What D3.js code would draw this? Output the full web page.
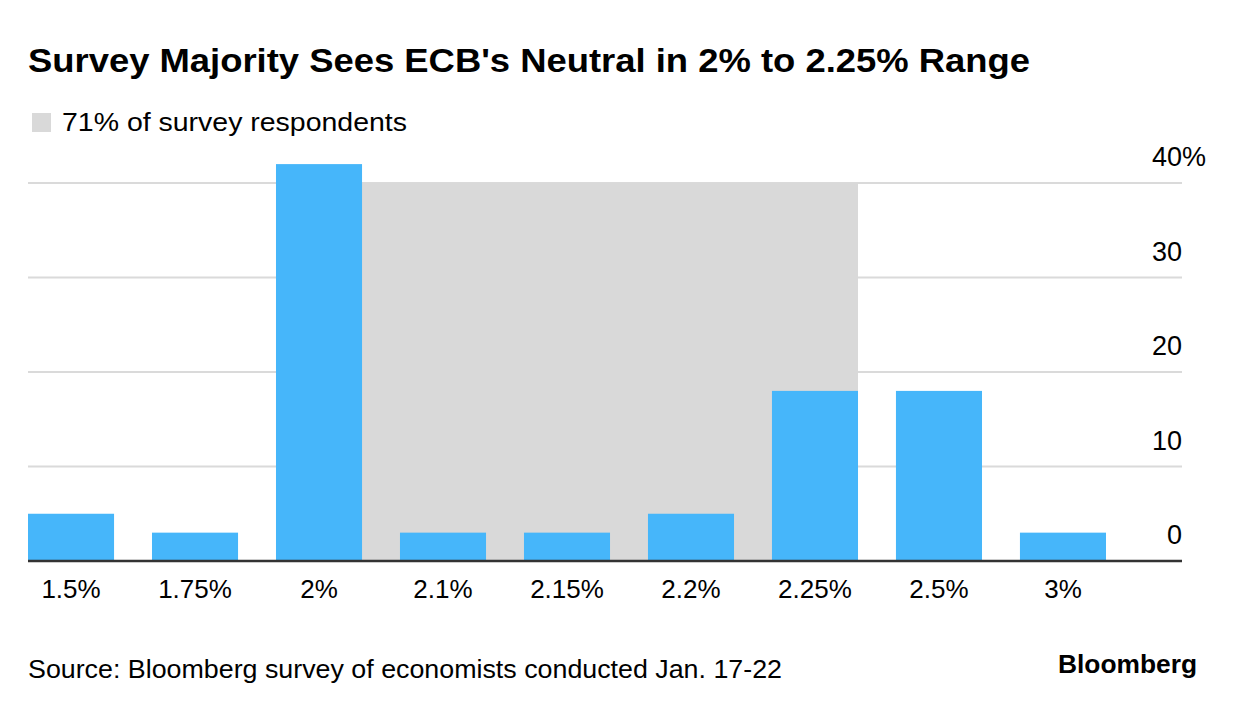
<!DOCTYPE html>
<html>
<head>
<meta charset="utf-8">
<script src="https://cdn.jsdelivr.net/npm/d3@7/dist/d3.min.js"></script>
<style>
  body { margin: 0; background: #fff; }
  text { font-family: "Liberation Sans", Arial, sans-serif; fill: #000; }
</style>
</head>
<body>
<svg id="chart" width="1236" height="726"></svg>
<script>
// neutral rate estimates and share of respondents (%)
var categories = ["1.5%", "1.75%", "2%", "2.1%", "2.15%", "2.2%", "2.25%", "2.5%", "3%"];
var shares = [5, 3, 42, 3, 3, 5, 18, 18, 3];
var yTicks = [0, 10, 20, 30, 40];
var shadeRange = ["2%", "2.25%"];
var shadeTop = 40;

var svg = d3.select("#chart");
var plotLeft = 28, plotRight = 1182, plotTop = 183, plotBottom = 561;

var x = d3.scaleBand()
    .domain(categories)
    .range([plotLeft, 1106])
    .paddingInner(0.306)
    .paddingOuter(0);

var y = d3.scaleLinear()
    .domain([0, 40])
    .range([plotBottom, plotTop]);

// the source font runs wider than Liberation, stretch the glyphs a bit
function stretch(sel, w) {
    sel.attr("textLength", w).attr("lengthAdjust", "spacingAndGlyphs");
}

// title
svg.append("text")
    .attr("x", 28).attr("y", 72)
    .attr("font-size", 33).attr("font-weight", "bold")
    .text("Survey Majority Sees ECB's Neutral in 2% to 2.25% Range")
    .call(stretch, 1002);

// legend
svg.append("rect")
    .attr("x", 32).attr("y", 113)
    .attr("width", 19).attr("height", 19)
    .attr("fill", "#d9d9d9");
svg.append("text")
    .attr("x", 62).attr("y", 131)
    .attr("font-size", 26.5)
    .text("71% of survey respondents")
    .call(stretch, 345);

// gridlines
svg.append("g").selectAll("line")
    .data(yTicks.filter(function(d){ return d > 0; }))
    .enter().append("line")
    .attr("x1", plotLeft).attr("x2", plotRight)
    .attr("y1", function(d){ return y(d); })
    .attr("y2", function(d){ return y(d); })
    .attr("stroke", "#dadada").attr("stroke-width", 2);

// shaded majority band
var x0 = x(shadeRange[0]), x1 = x(shadeRange[1]) + x.bandwidth();
svg.append("rect")
    .attr("x", x0).attr("y", y(shadeTop))
    .attr("width", x1 - x0).attr("height", y(0) - y(shadeTop))
    .attr("fill", "#d9d9d9");

// bars
svg.append("g").selectAll("rect")
    .data(shares)
    .enter().append("rect")
    .attr("x", function(d, i){ return x(categories[i]); })
    .attr("y", function(d){ return y(d); })
    .attr("width", x.bandwidth())
    .attr("height", function(d){ return y(0) - y(d); })
    .attr("fill", "#46b6fa");

// baseline
svg.append("line")
    .attr("x1", plotLeft).attr("x2", plotRight)
    .attr("y1", y(0)).attr("y2", y(0))
    .attr("stroke", "#333").attr("stroke-width", 2.5);

// y tick labels on the right, the % of the top one hangs past the axis
var yLabels = svg.append("g").selectAll("text")
    .data(yTicks)
    .enter().append("text")
    .attr("y", function(d){ return y(d) - 17; })
    .attr("font-size", 27)
    .text(function(d){ return d; });
yLabels.each(function(d){
    var w = this.getComputedTextLength();
    d3.select(this).attr("x", plotRight - w);
    if (d === 40) d3.select(this).append("tspan").text("%");
});

// x labels
svg.append("g").selectAll("text")
    .data(categories)
    .enter().append("text")
    .attr("x", function(d){ return x(d) + x.bandwidth() / 2; })
    .attr("y", 598)
    .attr("text-anchor", "middle")
    .attr("font-size", 26)
    .text(function(d){ return d; });

// source
svg.append("text")
    .attr("x", 28).attr("y", 678)
    .attr("font-size", 26.5)
    .text("Source: Bloomberg survey of economists conducted Jan. 17-22")
    .call(stretch, 754);

svg.append("text")
    .attr("x", 1058).attr("y", 673)
    .attr("font-size", 25).attr("font-weight", "bold")
    .text("Bloomberg")
    .call(stretch, 139);
</script>
</body>
</html>
